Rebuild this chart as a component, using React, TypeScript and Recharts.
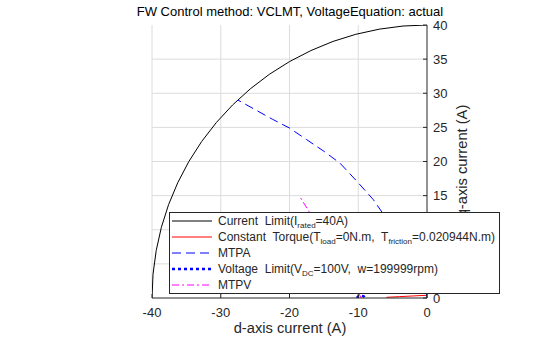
import React from 'react'
import { LineChart, Line, XAxis, YAxis, CartesianGrid, Legend } from 'recharts'

// d/q current pairs (A)
const currentLimitD = [-40, -39.85, -39.39, -38.64, -37.59, -36.25, -34.64, -32.77, -30.64, -28.28, -25.71, -22.94, -20, -16.9, -13.68, -10.35, -6.95, -3.49, 0]
const currentLimitQ = [0, 3.49, 6.95, 10.35, 13.68, 16.9, 20, 22.94, 25.71, 28.28, 30.64, 32.77, 34.64, 36.25, 37.59, 38.64, 39.39, 39.85, 40]

const torqueD = [-5.9, -4, -2, 0]
const torqueQ = [0.1, 0.2, 0.3, 0.4]

const mtpaD = [0, -0.25, -0.9, -2.5, -4.5, -6.36, -7.8, -10.2, -12.65, -15, -17.5, -20, -22.5, -25, -27.5]
const mtpaQ = [0, 2, 4, 7, 10, 12.3, 14.4, 17.1, 19.75, 21.5, 23.2, 24.9, 26.2, 27.6, 29]

const voltageD = [-10.2, -10, -9.6, -9.2, -9]
const voltageQ = [0, 0.25, 0.35, 0.25, 0]

const mtpvD = [-9.55, -12.5, -15.5, -18.57]
const mtpvQ = [0, 5, 10, 14.96]

const xTicks = [-40, -30, -20, -10, 0]
const yTicks = [0, 5, 10, 15, 20, 25, 30, 35, 40]

const toPts = (d: number[], q: number[]) => d.map((v, i) => ({ d: v, q: q[i] }))

const FONT = '"Liberation Sans", Arial, Helvetica, sans-serif'
const AX = '#262626'

function subStyle(): React.CSSProperties {
  return { fontSize: 8, verticalAlign: -3, lineHeight: 0 }
}

const legendRows = [
  { color: '#000000', dash: undefined, width: 1, label: <>Current  Limit(I<sub style={subStyle()}>rated</sub>=40A)</> },
  { color: '#ff0000', dash: undefined, width: 1, label: <>Constant  Torque(T<sub style={subStyle()}>load</sub>=0N.m,  T<sub style={subStyle()}>friction</sub>=0.020944N.m)</> },
  { color: '#0000ff', dash: '9 5', width: 1, label: <>MTPA</> },
  { color: '#0000ff', dash: '3 3', width: 2.5, label: <>Voltage  Limit(V<sub style={subStyle()}>DC</sub>=100V,  w=199999rpm)</> },
  { color: '#ff00ff', dash: '7 3 2 3', width: 1, label: <>MTPV</> },
]

function LegendBox() {
  return (
    <div style={{
      boxSizing: 'border-box', width: 331, height: 82, border: `1px solid ${AX}`, background: '#fff',
      fontFamily: FONT, fontSize: 12, color: AX,
    }}>
      {legendRows.map((r, i) => (
        <div key={i} style={{ height: 16, display: 'flex', alignItems: 'center', whiteSpace: 'pre' }}>
          <svg width={42} height={10} style={{ marginLeft: 2, flex: 'none' }}>
            <line x1={0} y1={5} x2={40} y2={5} stroke={r.color} strokeWidth={r.width} strokeDasharray={r.dash} />
          </svg>
          <span style={{ marginLeft: 4, lineHeight: '16px' }}>{r.label}</span>
        </div>
      ))}
    </div>
  )
}

export default function App() {
  return (
    <div style={{ width: 560, height: 337, background: '#fff', position: 'relative' }}>
      <style>{'body{margin:0}'}</style>
      <LineChart width={560} height={337} margin={{ top: 25, right: 93, left: 152, bottom: 0 }}>
        <CartesianGrid stroke="#dcdcdc" horizontalValues={[5, 10, 15, 20, 25, 30, 35]} verticalValues={[-40, -30, -20, -10]} />
        <XAxis
          type="number" dataKey="d" domain={[-40, 0]} ticks={xTicks} height={39}
          axisLine={{ stroke: AX }} tickLine={{ stroke: AX }} tickSize={-4} tickMargin={14}
          tick={{ fill: AX, fontSize: 13, fontFamily: FONT }} allowDataOverflow
        />
        <YAxis
          type="number" orientation="right" domain={[0, 40]} ticks={yTicks} width={40}
          axisLine={{ stroke: AX }} tickLine={{ stroke: AX }} tickSize={-4} tickMargin={10}
          tick={{ fill: AX, fontSize: 13, fontFamily: FONT }} allowDataOverflow
        />
        <Line data={toPts(currentLimitD, currentLimitQ)} dataKey="q" stroke="#000" strokeWidth={1} dot={false} isAnimationActive={false} />
        <Line data={toPts(torqueD, torqueQ)} dataKey="q" stroke="#ff0000" strokeWidth={1} dot={false} isAnimationActive={false} />
        <Line data={toPts(mtpaD, mtpaQ)} dataKey="q" stroke="#0000ff" strokeWidth={1} strokeDasharray="9 5" dot={false} isAnimationActive={false} />
        <Line data={toPts(voltageD, voltageQ)} dataKey="q" stroke="#0000ff" strokeWidth={2.5} strokeDasharray="3 3" dot={false} isAnimationActive={false} />
        <Line data={toPts(mtpvD, mtpvQ)} dataKey="q" stroke="#ff00ff" strokeWidth={1} strokeDasharray="7 3 2 3" dot={false} isAnimationActive={false} />
        <Legend
          layout="vertical" align="center" verticalAlign="middle"
          wrapperStyle={{ position: 'absolute', left: 169, top: 212, width: 331, height: 82 }}
          content={() => <LegendBox />}
        />
        <text x={290} y={16} textAnchor="middle" fontFamily={FONT} fontSize={13} fill="#000">
          FW Control method: VCLMT, VoltageEquation: actual
        </text>
        <text x={290} y={333} textAnchor="middle" fontFamily={FONT} fontSize={14.7} fill={AX}>
          d-axis current (A)
        </text>
        <text x={467} y={161} textAnchor="middle" fontFamily={FONT} fontSize={14.7} fill={AX} transform="rotate(-90 467 161)">
          q-axis current (A)
        </text>
      </LineChart>
    </div>
  )
}
